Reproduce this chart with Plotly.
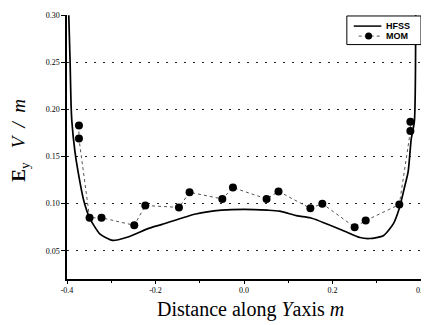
import plotly.graph_objects as go

# HFSS curve
hfss_x = [-0.396, -0.393, -0.391, -0.389, -0.382, -0.375, -0.362, -0.349, -0.326, -0.297,
          -0.266, -0.214, -0.185, -0.109, -0.051, 0.0, 0.054, 0.080, 0.121, 0.150,
          0.226, 0.262, 0.284, 0.315, 0.338, 0.351, 0.362, 0.371, 0.378, 0.385, 0.388]
hfss_y = [0.300, 0.250, 0.208, 0.187, 0.155, 0.134, 0.103, 0.085, 0.068, 0.061,
          0.064, 0.074, 0.078, 0.089, 0.093, 0.094, 0.093, 0.092, 0.087, 0.085,
          0.071, 0.064, 0.063, 0.066, 0.079, 0.095, 0.116, 0.134, 0.169, 0.187, 0.300]

# MOM points
mom_x = [-0.373, -0.373, -0.349, -0.322, -0.248, -0.223, -0.147, -0.123, -0.049, -0.025,
         0.051, 0.078, 0.150, 0.177, 0.250, 0.275, 0.351, 0.376, 0.376]
mom_y = [0.183, 0.169, 0.085, 0.085, 0.077, 0.098, 0.096, 0.112, 0.105, 0.117,
         0.105, 0.113, 0.095, 0.100, 0.075, 0.082, 0.099, 0.177, 0.187]

x_ticks = [-0.4, -0.2, 0.0, 0.2, 0.4]
x_labels = ["-0.4", "-0.2", "0.0", "0.2", "0.4"]
y_ticks = [0.05, 0.10, 0.15, 0.20, 0.25, 0.30]
y_labels = ["0.05", "0.10", "0.15", "0.20", "0.25", "0.30"]
grid_vals = [0.05, 0.10, 0.15, 0.20, 0.25]

series_names = ["HFSS", "MOM"]

fig = go.Figure()
fig.add_trace(go.Scatter(x=hfss_x, y=hfss_y, mode="lines", name=series_names[0],
                         showlegend=False,
                         line=dict(color="black", width=1.7, shape="spline", smoothing=0.6)))
fig.add_trace(go.Scatter(x=mom_x, y=mom_y, mode="lines+markers", name=series_names[1],
                         showlegend=False,
                         line=dict(color="#555555", width=1, dash="dot"),
                         marker=dict(color="black", size=8)))

# compact framed legend (drawn in paper coordinates)
shapes = [
    dict(type="rect", xref="paper", yref="paper", x0=0.7905, x1=1.0, y0=0.888, y1=0.9963,
         line=dict(color="black", width=1), fillcolor="white", layer="above"),
    dict(type="line", xref="paper", yref="paper", x0=0.810, x1=0.888, y0=0.958, y1=0.958,
         line=dict(color="black", width=1.5), layer="above"),
    dict(type="line", xref="paper", yref="paper", x0=0.824, x1=0.888, y0=0.920, y1=0.920,
         line=dict(color="#555555", width=1, dash="dot"), layer="above"),
    dict(type="circle", xref="paper", yref="paper", xsizemode="pixel", ysizemode="pixel",
         xanchor=0.852, yanchor=0.920, x0=-3.5, x1=3.5, y0=-3.5, y1=3.5,
         fillcolor="black", line=dict(color="black", width=0), layer="above"),
]
annotations = [
    dict(text="<b>" + series_names[0] + "</b>", xref="paper", yref="paper", x=0.8994, y=0.958,
         xanchor="left", yanchor="middle", showarrow=False, borderpad=0,
         font=dict(family="Liberation Sans", size=9, color="black")),
    dict(text="<b>" + series_names[1] + "</b>", xref="paper", yref="paper", x=0.8994, y=0.920,
         xanchor="left", yanchor="middle", showarrow=False, borderpad=0,
         font=dict(family="Liberation Sans", size=9, color="black")),
    dict(text="<b>E</b><sub>y</sub>   <i>V  /  m</i>", xref="paper", yref="paper",
         x=-0.131, y=0.526, xanchor="center", yanchor="middle", textangle=-90,
         showarrow=False, font=dict(family="Liberation Serif", size=19, color="black")),
    dict(text="Distance along <i>Y</i>axis <i>m</i>", xref="paper", yref="paper",
         x=0.517, y=-0.0672, xanchor="center", yanchor="top", showarrow=False, borderpad=0,
         font=dict(family="Liberation Serif", size=20, color="black")),
]

# page body has an 8px default margin, so the figure is sized to fit the window
fig.update_layout(
    width=421, height=317,
    margin=dict(l=59, r=4, t=3, b=46),
    paper_bgcolor="white", plot_bgcolor="white",
    showlegend=False,
    shapes=shapes, annotations=annotations,
    font=dict(family="Liberation Serif", color="black"),
)
fig.update_xaxes(
    range=[-0.4, 0.4], tickvals=x_ticks, ticktext=x_labels,
    showgrid=False, zeroline=False, showline=True, linecolor="black", linewidth=1.5,
    ticks="outside", ticklen=3, tickcolor="black", tickwidth=1,
    ticklabeloverflow="allow",
    minor=dict(dtick=0.1, ticks="outside", ticklen=2, tickcolor="black"),
    tickfont=dict(family="Liberation Serif", size=8, color="black"),
)
fig.update_yaxes(
    range=[0.02, 0.3002], tickvals=y_ticks, ticktext=y_labels,
    showgrid=False,
    zeroline=False, showline=True, linecolor="black", linewidth=1.5,
    ticks="outside", ticklen=4, tickcolor="black", tickwidth=1,
    ticklabeloverflow="allow",
    minor=dict(tickvals=grid_vals, ticks="", showgrid=True, gridcolor="#222222",
               griddash="2px,7px", gridwidth=1),
    tickfont=dict(family="Liberation Serif", size=8, color="black"),
)
fig.write_html("out.html")
